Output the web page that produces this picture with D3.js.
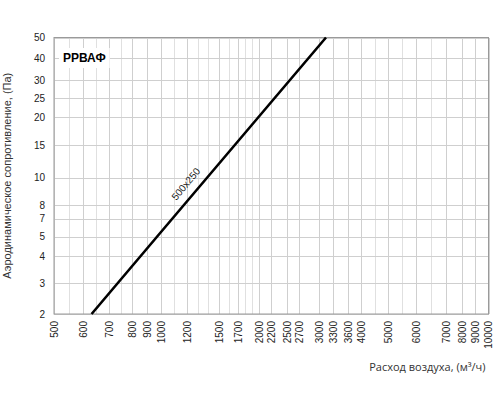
<!DOCTYPE html>
<meta charset="utf-8">
<style>
body { margin: 0; background: #fff; }
text { font-family: "Liberation Sans", Arial, sans-serif; fill: #222; }
.grid line { stroke: #cfcfcf; stroke-width: 1; shape-rendering: crispEdges; }
.grid line.minor { stroke: #e0e0e0; }
.tick text { font-size: 10px; }
</style>
<svg width="500" height="400"></svg>
<script src="https://d3js.org/d3.v7.min.js"></script>
<script>

// data
var xTicks = [500, 600, 700, 800, 900, 1000, 1200, 1500, 1700, 2000, 2200, 2500, 2700,
              3000, 3300, 3600, 4000, 5000, 6000, 7000, 8000, 9000, 10000];
var xMinor = [550, 650, 750, 1100, 1300, 1400, 1600, 1800, 1900, 4500, 5500, 6500];
var yTicks = [50, 40, 30, 25, 20, 15, 10, 8, 7, 5, 4, 3, 2];
var flow = [633, 1000, 3150];       // м³/ч
var pressure = [2, 5.5, 50];        // Па
var seriesName = "500x250";
var title = "РРВАФ";

// the printed axes are not an exact log grid, so each tick gets its own spot
var pLeft = 54, pRight = 488.5, pTop = 37.5, pBottom = 314;
var xTickPx = [54, 83, 109, 132, 147, 161, 187, 219, 238, 259, 271, 287, 299,
               319, 333, 348, 361, 388, 416, 446, 462, 475, 488.5];
var yTickPx = [37.5, 58, 80, 98, 117, 145, 177.5, 205, 218.5, 236.5, 256, 283, 314];

var svg = d3.select("svg");

var x = d3.scaleLinear().domain(xTicks).range(xTickPx);
var y = d3.scaleLinear().domain(yTicks).range(yTickPx);

var grid = svg.append("g").attr("class", "grid");

grid.selectAll(".vx")
  .data(xTicks.concat(xMinor))
  .enter().append("line")
    .attr("class", function(d) { return xMinor.indexOf(d) >= 0 ? "minor" : null; })
    .attr("x1", function(d) { return Math.round(x(d)) + 0.5; })
    .attr("x2", function(d) { return Math.round(x(d)) + 0.5; })
    .attr("y1", pTop)
    .attr("y2", pBottom);

grid.selectAll(".hy")
  .data(yTicks)
  .enter().append("line")
    .attr("x1", pLeft)
    .attr("x2", pRight)
    .attr("y1", function(d) { return Math.round(y(d)) + 0.5; })
    .attr("y2", function(d) { return Math.round(y(d)) + 0.5; });

// title with white backing (sits on the grid)
var tg = svg.append("g");
var t = tg.append("text")
    .attr("x", 63)
    .attr("y", 62)
    .attr("font-size", "12px")
    .attr("font-weight", "bold")
    .style("fill", "#000")
    .text(title);
var bb = t.node().getBBox();
tg.insert("rect", "text")
    .attr("x", bb.x - 4)
    .attr("y", bb.y - 3)
    .attr("width", bb.width + 8)
    .attr("height", bb.height + 6)
    .attr("fill", "#fff");

// frame
svg.append("rect")
    .attr("x", pLeft)
    .attr("y", pTop)
    .attr("width", pRight - pLeft)
    .attr("height", pBottom - pTop)
    .attr("fill", "none")
    .attr("stroke", "#9a9a9a")
    .attr("stroke-width", 1);

// y tick labels
svg.append("g").attr("class", "tick")
  .selectAll("text")
  .data(yTicks)
  .enter().append("text")
    .attr("x", pLeft - 9)
    .attr("y", function(d) { return y(d); })
    .attr("dy", "0.35em")
    .attr("text-anchor", "end")
    .text(function(d) { return d; });

// x tick labels, rotated
svg.append("g").attr("class", "tick")
  .selectAll("text")
  .data(xTicks)
  .enter().append("text")
    .attr("transform", function(d) { return "translate(" + x(d) + "," + (pBottom + 7) + ") rotate(-90)"; })
    .attr("dy", "0.35em")
    .attr("text-anchor", "end")
    .text(function(d) { return d; });

// series
var pts = flow.map(function(q, i) { return [q, pressure[i]]; });
var line = d3.line()
    .x(function(d) { return x(d[0]); })
    .y(function(d) { return y(d[1]); });

svg.append("path")
    .datum(pts)
    .attr("d", line)
    .attr("fill", "none")
    .attr("stroke", "#000")
    .attr("stroke-width", 2.6);

svg.append("text")
    .attr("transform", "translate(" + (x(1150) + 8) + "," + (y(9) - 5) + ") rotate(-50)")
    .attr("text-anchor", "middle")
    .attr("font-size", "10px")
    .text(seriesName);

// axis titles
svg.append("text")
    .attr("transform", "translate(11," + ((pTop + pBottom) / 2) + ") rotate(-90)")
    .attr("text-anchor", "middle")
    .attr("font-size", "11px")
    .style("fill", "#333")
    .text("Аэродинамическое сопротивление, (Па)");

svg.append("text")
    .attr("x", pRight - 3)
    .attr("y", 371)
    .attr("text-anchor", "end")
    .attr("font-size", "11px")
    .style("font-family", "'Open Sans', sans-serif")
    .style("fill", "#333")
    .text("Расход воздуха, (м³/ч)");

</script>
